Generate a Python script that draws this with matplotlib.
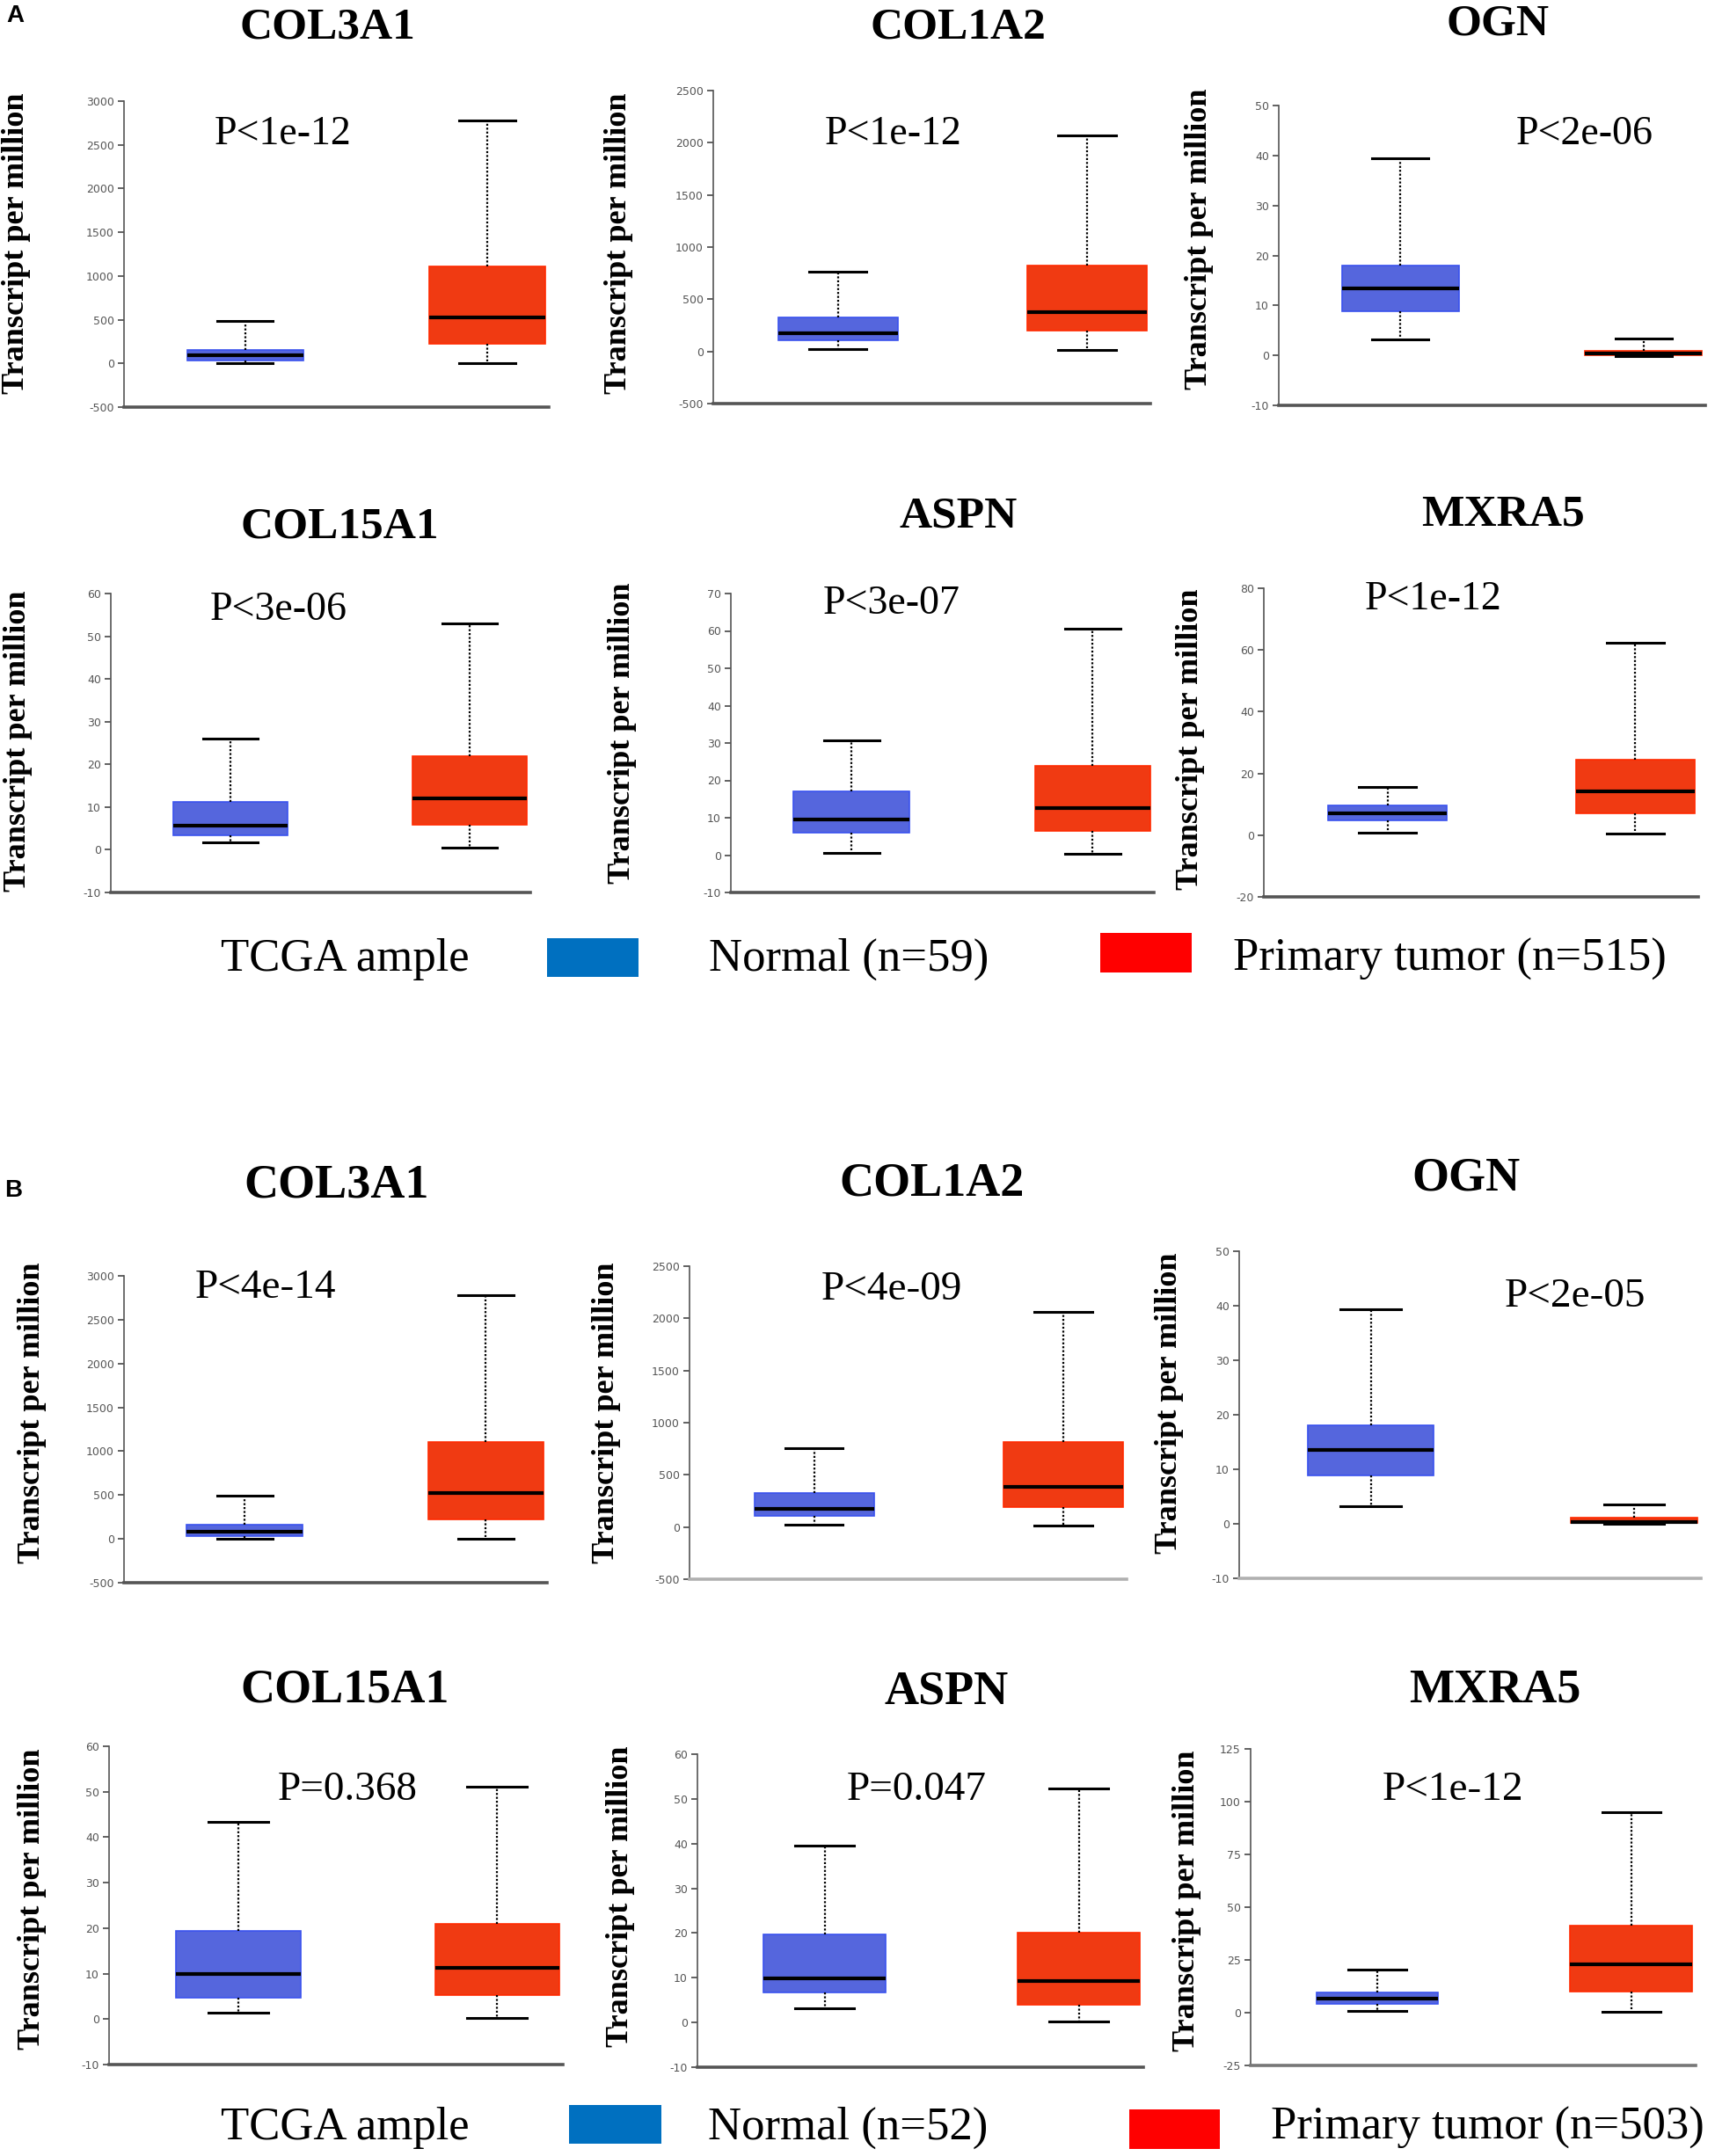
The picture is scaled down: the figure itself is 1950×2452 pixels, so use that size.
import matplotlib
matplotlib.use('Agg')
import matplotlib.pyplot as plt
from matplotlib.patches import Rectangle
import numpy as np

plt.rcParams['axes.unicode_minus'] = False

W, H = 1950, 2452

genes = ['COL3A1', 'COL1A2', 'OGN', 'COL15A1', 'ASPN', 'MXRA5']

p_a = ['P<1e-12', 'P<1e-12', 'P<2e-06', 'P<3e-06', 'P<3e-07', 'P<1e-12']
p_b = ['P<4e-14', 'P<4e-09', 'P<2e-05', 'P=0.368', 'P=0.047', 'P<1e-12']

# whislo, q1, median, q3, whishi  (transcripts per million)
normal_a = [[0, 34, 94, 155, 487],
            [23, 107, 175, 324, 763],
            [3.2, 8.9, 13.4, 17.9, 39.5],
            [1.7, 3.3, 5.6, 11.2, 26.0],
            [0.6, 6.0, 9.6, 17.1, 30.8],
            [0.9, 4.9, 7.1, 9.6, 15.5]]
tumor_a = [[5, 228, 524, 1108, 2781],
           [11, 200, 380, 819, 2069],
           [-0.1, 0.1, 0.35, 0.9, 3.4],
           [0.4, 5.9, 12.0, 21.9, 53.0],
           [0.3, 6.5, 12.5, 23.8, 60.7],
           [0.5, 7.1, 14.2, 24.5, 62.3]]
normal_b = [[0, 35, 85, 158, 489],
            [24, 104, 175, 322, 754],
            [3.2, 8.8, 13.5, 18.1, 39.4],
            [1.5, 4.7, 10.0, 19.3, 43.4],
            [3.2, 6.8, 9.8, 19.7, 39.6],
            [1.0, 4.0, 6.75, 9.6, 20.6]]
tumor_b = [[0, 225, 525, 1106, 2775],
           [15, 192, 382, 814, 2059],
           [0, 0.2, 0.4, 1.1, 3.5],
           [0.3, 5.2, 11.3, 20.9, 51.1],
           [0.2, 4.0, 9.3, 20.1, 52.3],
           [0.3, 10.1, 23.1, 41.4, 95.1]]

# y tick range (low, high, step)
ticks_a = [(-500, 3000, 500), (-500, 2500, 500), (-10, 50, 10),
           (-10, 60, 10), (-10, 70, 10), (-20, 80, 20)]
ticks_b = [(-500, 3000, 500), (-500, 2500, 500), (-10, 50, 10),
           (-10, 60, 10), (-10, 60, 10), (-25, 125, 25)]

legend_a = ['TCGA ample', 'Normal (n=59)', 'Primary tumor (n=515)']
legend_b = ['TCGA ample', 'Normal (n=52)', 'Primary tumor (n=503)']

ylab = 'Transcript per million'

# ---- layout in pixels of the output image ----
# axes: left, right, top tick y, bottom tick y
ax_a = [(141, 624, 115, 463), (811, 1308, 103, 459), (1454, 1939, 120, 461),
        (126, 603, 675, 1015), (831, 1312, 675, 1015), (1437, 1931, 669, 1020)]
ax_b = [(141, 622, 1451, 1800), (784, 1281, 1440, 1796), (1409, 1934, 1423, 1795),
        (124, 640, 1986, 2348), (793, 1300, 1995, 2351), (1422, 1928, 1989, 2349)]
title_a = [(372, 32), (1089, 32), (1703, 28), (386, 600), (1090, 588), (1709, 586)]
title_b = [(383, 1349), (1060, 1346), (1667, 1340), (392, 1923), (1076, 1925), (1700, 1923)]
ylab_a = [(19, 277), (704, 277), (1364, 272), (21, 843), (707, 834), (1353, 841)]
ylab_b = [(37, 1607), (690, 1607), (1330, 1596), (37, 2160), (706, 2157), (1349, 2162)]
pv_a = [(322, 153), (1016, 153), (1802, 153), (317, 694), (1014, 687), (1630, 682)]
pv_b = [(302, 1465), (1014, 1467), (1791, 1475), (395, 2036), (1042, 2036), (1652, 2036)]
xaxis_col_b = ['#555555', '#b0b0b0', '#b0b0b0', '#555555', '#555555', '#777777']

SERIF = 'Liberation Serif'
BLUE_BOX, BLUE_EDGE = '#5566dd', '#3a52ee'
RED_BOX, RED_EDGE = '#f03a12', '#ff2a00'


def fx(x):
    return x / W


def fy(y):
    return 1 - y / H


fig = plt.figure(figsize=(W / 100, H / 100), dpi=100)


def draw_panel(box, normal, tumor, trange, xcol):
    l, r, t, b = box
    ax = fig.add_axes([fx(l), fy(b), (r - l) / W, (b - t) / H])
    keys = ['whislo', 'q1', 'med', 'q3', 'whishi']
    stats = [dict(zip(keys, normal)), dict(zip(keys, tumor))]
    res = ax.bxp(stats, positions=[1, 2], widths=0.48, patch_artist=True,
                 showfliers=False, capwidths=0.23,
                 medianprops=dict(color='black', linewidth=3),
                 whiskerprops=dict(color='black', linewidth=1.6,
                                   linestyle=(0, (1.0, 1.0))),
                 capprops=dict(color='black', linewidth=2.2),
                 boxprops=dict(linewidth=1.2))
    for patch, fc, ec in zip(res['boxes'], [BLUE_BOX, RED_BOX], [BLUE_EDGE, RED_EDGE]):
        patch.set_facecolor(fc)
        patch.set_edgecolor(ec)
    lo, hi, st = trange
    ax.set_ylim(lo, hi)
    ax.set_xlim(0.5, 2.254)
    ax.set_yticks(np.arange(lo, hi + st / 2, st))
    ax.tick_params(axis='y', labelsize=9, labelcolor='#555555', color='#555555',
                   length=5, width=1.3, pad=3)
    ax.set_xticks([])
    for s in ['top', 'right']:
        ax.spines[s].set_visible(False)
    ax.spines['left'].set_color('#555555')
    ax.spines['left'].set_linewidth(1.2)
    ax.spines['bottom'].set_color(xcol)
    ax.spines['bottom'].set_linewidth(2.6)
    ax.patch.set_alpha(0)
    return ax


for i in range(6):
    draw_panel(ax_a[i], normal_a[i], tumor_a[i], ticks_a[i], '#555555')
    fig.text(fx(title_a[i][0]), fy(title_a[i][1]), genes[i], family=SERIF,
             fontweight='bold', fontsize=37, ha='center', va='center')
    fig.text(fx(ylab_a[i][0]), fy(ylab_a[i][1]), ylab, family=SERIF,
             fontweight='bold', fontsize=26, rotation=90, ha='center', va='center')
    fig.text(fx(pv_a[i][0]), fy(pv_a[i][1]), p_a[i], family=SERIF,
             fontsize=33, ha='center', va='center')

for i in range(6):
    draw_panel(ax_b[i], normal_b[i], tumor_b[i], ticks_b[i], xaxis_col_b[i])
    fig.text(fx(title_b[i][0]), fy(title_b[i][1]), genes[i], family=SERIF,
             fontweight='bold', fontsize=39, ha='center', va='center')
    fig.text(fx(ylab_b[i][0]), fy(ylab_b[i][1]), ylab, family=SERIF,
             fontweight='bold', fontsize=26, rotation=90, ha='center', va='center')
    fig.text(fx(pv_b[i][0]), fy(pv_b[i][1]), p_b[i], family=SERIF,
             fontsize=34, ha='center', va='center')

# panel letters
fig.text(fx(17), fy(18), 'A', family='Liberation Sans', fontweight='bold',
         fontsize=20, ha='center', va='center')
fig.text(fx(15), fy(1354), 'B', family='Liberation Sans', fontweight='bold',
         fontsize=20, ha='center', va='center')


def draw_legend(labels, y, text_x, blue_rect, red_rect, size):
    for lab, x in zip(labels, text_x):
        fig.text(fx(x), fy(y), lab, family=SERIF, fontsize=size,
                 ha='center', va='center')
    for (x0, x1, y0, y1), c in zip([blue_rect, red_rect], ['#0070c0', '#ff0000']):
        fig.patches.append(Rectangle((fx(x0), fy(y1)), (x1 - x0) / W, (y1 - y0) / H,
                                     transform=fig.transFigure, facecolor=c,
                                     edgecolor='none'))


draw_legend(legend_a, 1091, [392, 965, 1648], (622, 726, 1067, 1111),
            (1251, 1355, 1061, 1106), 38)
draw_legend(legend_b, 2420, [392, 964, 1691], (647, 752, 2394, 2438),
            (1284, 1387, 2399, 2444), 38)

fig.savefig('out.png', dpi=100)
